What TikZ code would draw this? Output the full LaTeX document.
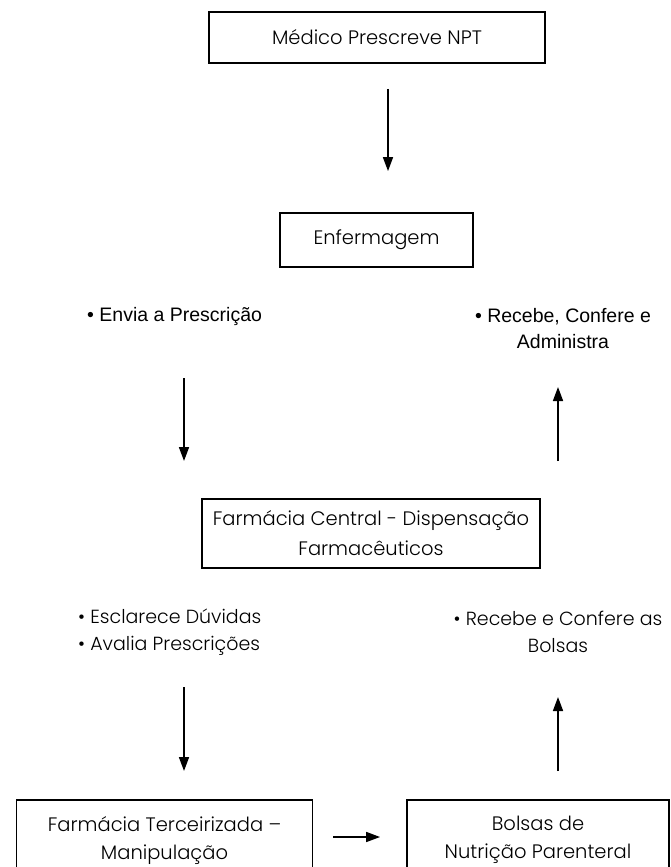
\documentclass[tikz,border=0pt]{standalone}
\usepackage{fontspec}
\setmainfont{Poppins}[UprightFont=* Light]
\newfontfamily\arialf{Liberation Sans}
\usetikzlibrary{arrows.meta}
\begin{document}
\begin{tikzpicture}[x=1pt,y=-1pt,
 box/.style={draw, line width=1.8pt, align=center, inner sep=0pt, font=\fontsize{19.5}{30}\selectfont},
 lbl/.style={font=\fontsize{19}{27}\selectfont, inner sep=0pt},
 albl/.style={font=\arialf\fontsize{19.5}{26}\selectfont, inner sep=0pt},
 arr/.style={line width=1.6pt, -{Triangle[width=10pt,length=14pt]}}]
\useasboundingbox (0,0) rectangle (671,867);
\clip (0,0) rectangle (671,867);
\node[box, minimum width=336pt, minimum height=51pt] (b1) at (377,37.5) {Médico Prescreve NPT};
\node[box, minimum width=193pt, minimum height=54pt] (b2) at (376.5,240) {Enfermagem};
\node[box, minimum width=338pt, minimum height=69pt] (b3) at (371,533.5) {Farmácia Central - Dispensação\\Farmacêuticos};
\node[box, minimum width=296pt, minimum height=80pt, font=\fontsize{19.5}{28}\selectfont] (b4) at (164.5,840) {Farmácia Terceirizada –\\Manipulação};
\node[box, minimum width=262pt, minimum height=80pt, font=\fontsize{19.5}{28}\selectfont] (b5) at (538,840) {Bolsas de\\Nutrição Parenteral};
\node[albl, anchor=west] (l1) at (87,316) {• Envia a Prescrição};
\node[albl, align=center] (l2) at (563,329) {• Recebe, Confere e\\Administra};
\node[lbl, align=left, anchor=west] (l3) at (78,632) {• Esclarece Dúvidas\\• Avalia Prescrições};
\node[lbl, align=center] (l4) at (558,632) {• Recebe e Confere as\\Bolsas};
\coordinate (a2s) at (184,378);
\coordinate (a2e) at (184,461);
\coordinate (r2s) at (558,461);
\coordinate (r2e) at (558,387);
\coordinate (a3s) at (184,687);
\coordinate (a3e) at (184,771);
\coordinate (r3s) at (558,771);
\coordinate (r3e) at (558,697);
\draw[arr, shorten <=25pt, shorten >=41pt] (b1.south -| 388,0) -- (b2.north -| 388,0);
\draw[arr] (a2s) -- (a2e);
\draw[arr] (r2s) -- (r2e);
\draw[arr] (a3s) -- (a3e);
\draw[arr] (r3s) -- (r3e);
\draw[arr, shorten <=20pt, shorten >=26pt] (b4.east |- 0,837) -- (b5.west |- 0,837);
\end{tikzpicture}
\end{document}
